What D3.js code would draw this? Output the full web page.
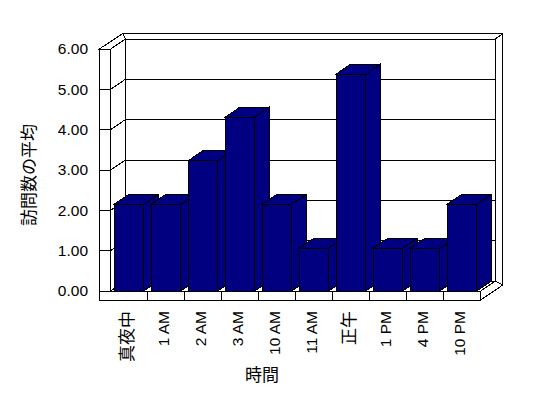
<!DOCTYPE html>
<html>
<head>
<meta charset="utf-8">
<script src="https://cdn.jsdelivr.net/npm/d3@7"></script>
<style>
  body { margin: 0; background: #fff; }
</style>
</head>
<body>
<svg id="visitChart" width="548" height="398"></svg>
<script>
// data
let categories = ["真夜中", "1 AM", "2 AM", "3 AM", "10 AM", "11 AM", "正午", "1 PM", "4 PM", "10 PM"];
let visits = [2.15, 2.15, 3.23, 4.31, 2.15, 1.06, 5.38, 1.06, 1.06, 2.15];
let yTicks = [0, 1, 2, 3, 4, 5, 6];
let yTitle = "訪問数の平均";
let xTitle = "時間";

let svg = d3.select("#visitChart");

let barColor = "#000080",
  lineW = 1,
  kx = 14.6, ky = -10,   // depth offset of the 3d box
  wallW = 11.4, floorH = 9, backT = {x: 7.5, y: -5.5};

let x = d3.scaleBand().domain(categories).range([110.7, 480.7]).paddingInner(0).paddingOuter(0),
  y = d3.scaleLinear().domain([0, 6]).range([291, 49]);

let x0 = x.range()[0], x1 = x.range()[1], y0 = y(0), y6 = y(6);

let line = (g, a, b, c, d) => g.append("line")
  .attr("x1", a).attr("y1", b).attr("x2", c).attr("y2", d)
  .attr("stroke", "#000").attr("stroke-width", lineW);

let poly = (g, pts, fill) => g.append("polygon")
  .attr("points", pts.map(p => p.join(",")).join(" "))
  .attr("fill", fill).attr("stroke", "#000")
  .attr("stroke-width", lineW).attr("stroke-linejoin", "miter");

let box = svg.append("g").attr("shape-rendering", "crispEdges");

// back wall (outer thickness + inner face)
poly(box, [[x0 + kx - 2.4, y6 + ky + backT.y], [x1 + kx + backT.x, y6 + ky + backT.y],
  [x1 + kx + backT.x, y0 + ky + 4], [x1 + kx, y0 + ky], [x1 + kx, y6 + ky], [x0 + kx, y6 + ky]], "#fff");
line(box, x1 + kx, y6 + ky, x1 + kx + backT.x, y6 + ky + backT.y);
poly(box, [[x0 + kx, y6 + ky], [x1 + kx, y6 + ky], [x1 + kx, y0 + ky], [x0 + kx, y0 + ky]], "#fff");

// left wall top + inner face
poly(box, [[x0 - wallW, y6], [x0 + kx - 2.4, y6 + ky + backT.y], [x0 + kx, y6 + ky], [x0, y6]], "#fff");
poly(box, [[x0, y6], [x0 + kx, y6 + ky], [x0 + kx, y0 + ky], [x0, y0]], "#fff");

// floor top + right side
poly(box, [[x0, y0], [x0 + kx, y0 + ky], [x1 + kx, y0 + ky], [x1, y0]], "#fff");
poly(box, [[x1, y0], [x1 + kx, y0 + ky], [x1 + kx + backT.x, y0 + ky + 4], [x1, y0 + floorH]], "#fff");

// gridlines
yTicks.forEach(v => {
  line(box, x0 + kx, y(v) + ky, x1 + kx, y(v) + ky);
  line(box, x0, y(v), x0 + kx, y(v) + ky);
});

// front strips (left wall face, floor face)
poly(box, [[x0 - wallW, y6], [x0, y6], [x0, y0], [x1, y0], [x1, y0 + floorH], [x0 - wallW, y0 + floorH]], "#fff");
yTicks.forEach(v => line(box, x0 - wallW, y(v), x0, y(v)));
categories.slice(1).forEach(c => line(box, x(c), y0, x(c), y0 + floorH));

// BARS
let bw = x.bandwidth(), bOff = bw * 0.095, bWidth = bw * 0.80;
let bars = svg.append("g")
  .attr("shape-rendering", "crispEdges")
  .selectAll("g")
  .data(categories.map((c, i) => ({cat: c, value: visits[i]})))
  .enter().append("g");

bars.each(function (d) {
  let g = d3.select(this),
    xl = x(d.cat) + bOff, xr = xl + bWidth, yt = y(d.value);
  poly(g, [[xr, yt], [xr + kx, yt + ky], [xr + kx, y0 + ky], [xr, y0]], barColor);
  poly(g, [[xl, yt], [xl + kx, yt + ky], [xr + kx, yt + ky], [xr, yt]], barColor);
  poly(g, [[xl, yt], [xr, yt], [xr, y0], [xl, y0]], barColor);
});

// AXIS LABELS
let latin = "'Liberation Sans', Arial, sans-serif",
  cjk = "'Noto Sans CJK JP', sans-serif";
let isCjk = s => /[^\x00-\x7f]/.test(s);

svg.append("g")
  .selectAll("text")
  .data(yTicks)
  .enter().append("text")
  .attr("x", 88)
  .attr("y", d => y(d))
  .attr("dy", "0.35em")
  .attr("text-anchor", "end")
  .style("font-family", latin)
  .style("font-size", "15.5px")
  .text(d => d3.format(".2f")(d));

svg.append("g")
  .selectAll("text")
  .data(categories)
  .enter().append("text")
  .attr("transform", d => "translate(" + (x(d) + bw / 2 - 2.5) + ",311) rotate(-90)")
  .attr("dy", "0.35em")
  .attr("text-anchor", "end")
  .attr("fill", "#000")
  .style("font-family", d => isCjk(d) ? cjk : latin)
  .style("font-size", d => isCjk(d) ? "17px" : "15.5px")
  .text(d => d);

// AXIS TITLES
svg.append("text")
  .attr("transform", "translate(29.5,175) rotate(-90)")
  .attr("dy", "0.35em")
  .attr("text-anchor", "middle")
  .style("font-family", cjk)
  .style("font-size", "17px")
  .text(yTitle);

svg.append("text")
  .attr("x", 262)
  .attr("y", 375)
  .attr("dy", "0.35em")
  .attr("text-anchor", "middle")
  .style("font-family", cjk)
  .style("font-size", "17px")
  .text(xTitle);
</script>
</body>
</html>
